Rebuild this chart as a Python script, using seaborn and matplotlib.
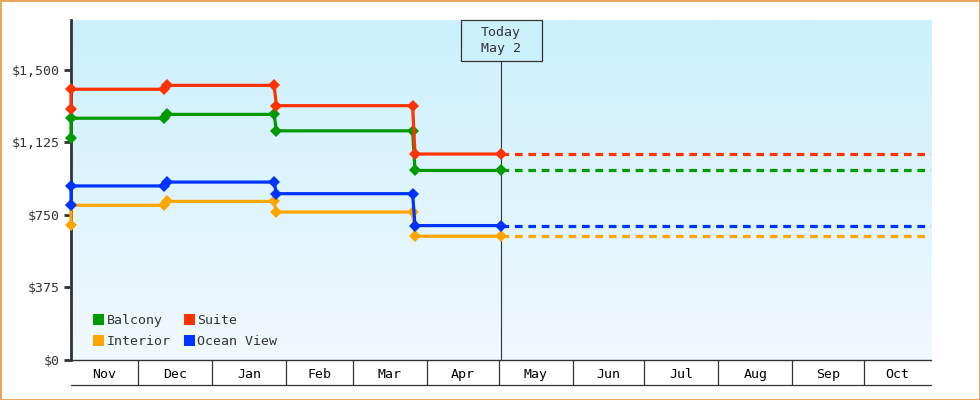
import pandas as pd
import matplotlib
matplotlib.use('Agg')
import matplotlib.pyplot as plt
import matplotlib.dates as mdates
from matplotlib.patches import Patch, Rectangle
import seaborn as sns
import numpy as np

# observed price points
obs_dates = ['2018-11-03', '2018-11-03', '2018-12-12', '2018-12-13', '2019-01-27',
             '2019-01-28', '2019-03-26', '2019-03-27', '2019-05-02']
balcony = [1150, 1250, 1250, 1270, 1270, 1185, 1185, 980, 980]
suite = [1300, 1400, 1400, 1420, 1420, 1315, 1315, 1065, 1065]
interior = [700, 800, 800, 820, 820, 765, 765, 640, 640]
ocean_view = [800, 900, 900, 920, 920, 860, 860, 695, 695]

cabins = ['Balcony', 'Suite', 'Interior', 'Ocean View']
colors = {'Balcony': '#009900', 'Suite': '#ff3300', 'Interior': '#ffa500', 'Ocean View': '#0033ff'}

today = pd.Timestamp('2019-05-02')
window_days = 180
y_ticks = [0, 375, 750, 1125, 1500]
y_labels = ['$0', '$375', '$750', '$1,125', '$1,500']

series = {'Balcony': balcony, 'Suite': suite, 'Interior': interior, 'Ocean View': ocean_view}
df = pd.concat([pd.DataFrame({'date': pd.to_datetime(obs_dates), 'price': v, 'cabin': k})
                for k, v in series.items()], ignore_index=True)

x_min = today - pd.Timedelta(days=window_days)
x_max = today + pd.Timedelta(days=window_days)

# projection after today keeps the last price
proj = pd.concat([pd.DataFrame({'date': [today, x_max], 'price': [v[-1], v[-1]], 'cabin': k})
                  for k, v in series.items()], ignore_index=True)

sns.set_theme(style='white')
plt.rcParams['font.family'] = ['DejaVu Sans Mono', 'DejaVu Sans']
ink = '#333333'

fig = plt.figure(figsize=(9.8, 4), dpi=100)
fig.patch.set_facecolor('white')
fig.patch.set_edgecolor('#e8a65e')
fig.patch.set_linewidth(2)
ax = fig.add_axes([71 / 980, 40 / 400, 860 / 980, 340 / 400])

# background gradient
grad = np.linspace(0, 1, 256).reshape(-1, 1)
top_c = np.array([204, 240, 253]) / 255
bot_c = np.array([240, 249, 254]) / 255
img = top_c[None, None, :] * (1 - grad[:, :, None]) + bot_c[None, None, :] * grad[:, :, None]
ax.imshow(img, extent=[0, 1, 0, 1], transform=ax.transAxes, aspect='auto', zorder=0)

sns.lineplot(data=df, x='date', y='price', hue='cabin', palette=colors, estimator=None,
             sort=False, units='cabin', marker='D', markersize=6.5, markeredgewidth=0,
             linewidth=2.3, legend=False, ax=ax, zorder=3, clip_on=False)
sns.lineplot(data=proj, x='date', y='price', hue='cabin', palette=colors, estimator=None,
             sort=False, units='cabin', linestyle=(0, (2.4, 1.8)), linewidth=2.3,
             legend=False, ax=ax, zorder=2)

ax.set_xlim(x_min, x_max)
ax.set_ylim(0, 1758)
ax.set_xlabel('')
ax.set_ylabel('')

# today marker
box_h = 41 / 340
box_w = 81 / 860
ax.axvline(today, ymin=0, ymax=1 - box_h, color=ink, lw=0.8, zorder=2.5)
ax.add_patch(Rectangle((0.5 - box_w / 2, 1 - box_h), box_w, box_h, transform=ax.transAxes,
                       facecolor='#cdf0fd', edgecolor=ink, lw=0.9, zorder=4, clip_on=False))
ax.text(0.5, 1 - box_h / 2, 'Today\nMay 2', transform=ax.transAxes, ha='center', va='center',
        fontsize=9.5, color=ink, zorder=5, linespacing=1.35)

# y axis
ax.set_yticks(y_ticks)
ax.set_yticklabels(y_labels)
ax.tick_params(axis='y', which='major', left=True, length=5, width=2, color=ink,
               labelsize=9.5, labelcolor=ink, pad=3)
for s in ['top', 'right']:
    ax.spines[s].set_visible(False)
ax.spines['left'].set_color(ink)
ax.spines['left'].set_linewidth(2)
ax.spines['left'].set_zorder(2.8)
ax.spines['bottom'].set_color(ink)
ax.spines['bottom'].set_linewidth(1)

# month cells along the bottom
month_starts = pd.date_range(x_min.normalize() + pd.offsets.MonthBegin(1), x_max, freq='MS')
bounds = [x_min] + list(month_starts) + [x_max]
mids = [a + (b - a) / 2 for a, b in zip(bounds[:-1], bounds[1:])]
ax.set_xticks(mdates.date2num(list(month_starts)))
ax.set_xticks(mdates.date2num(mids), minor=True)
ax.set_xticklabels([''] * len(month_starts))
ax.set_xticklabels([m.strftime('%b') for m in mids], minor=True)
ax.tick_params(axis='x', which='major', bottom=True, direction='out', length=18, width=0.9, color=ink)
ax.tick_params(axis='x', which='minor', bottom=True, length=0, labelsize=9.5, labelcolor='black', pad=6)
ax.plot([0, 1], [-25 / 340, -25 / 340], transform=ax.transAxes, color=ink, lw=0.9, clip_on=False)

# legend
order = ['Balcony', 'Interior', 'Suite', 'Ocean View']
handles = [Patch(facecolor=colors[c], edgecolor='none', label=c) for c in order]
ax.legend(handles=handles, ncol=2, loc='lower left', bbox_to_anchor=(0.012, 0.0), frameon=False,
          fontsize=9.5, handlelength=0.85, handleheight=0.85, handletextpad=0.15,
          columnspacing=1.0, labelspacing=0.62, labelcolor=ink)

fig.savefig('out.png', dpi=100, facecolor=fig.get_facecolor(), edgecolor=fig.get_edgecolor())
